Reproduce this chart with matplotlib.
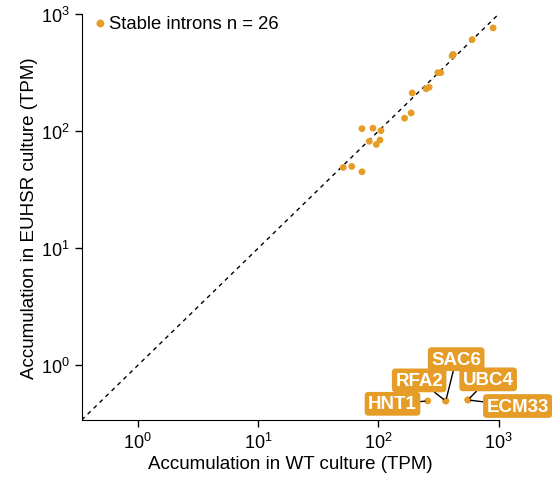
import matplotlib
matplotlib.use("Agg")
import matplotlib.pyplot as plt

plt.rcParams["font.family"] = ["Liberation Sans", "DejaVu Sans"]

ORANGE = "#E59D27"

# stable introns, TPM in WT vs EUHSR culture
wt_tpm = [898, 601, 418, 410, 312, 330, 264, 249, 191, 187, 165,
          73, 90, 105, 84, 103, 96, 51, 60, 73, 418,
          257, 363, 363, 554, 554]
euhsr_tpm = [761, 605, 451, 440, 316, 316, 237, 230, 212, 143, 129,
             105, 106, 101, 82, 84, 77, 49, 50, 45, 451,
             0.497, 0.497, 0.497, 0.507, 0.507]

# labelled outliers: gene, (x, y) of the point, (x, y) of the label
genes = ["HNT1", "RFA2", "SAC6", "UBC4", "ECM33"]
gene_x = [257, 363, 363, 554, 554]
gene_y = [0.497, 0.497, 0.497, 0.507, 0.507]
label_x = [131, 218, 443, 817, 1436]
label_y = [0.470, 0.745, 1.13, 0.760, 0.450]

fig = plt.figure(figsize=(5.52, 4.85), dpi=100)
ax = fig.add_axes([0.148, 0.132, 0.7555, 0.837])

lo = 0.342
ax.plot([lo, 1000], [lo, 1000], "k--", lw=1, dashes=(3, 3), zorder=1)
ax.scatter(wt_tpm, euhsr_tpm, s=24, color=ORANGE, edgecolors="none",
           zorder=3, label="Stable introns n = 26")

for g, px, py, lx, ly in zip(genes, gene_x, gene_y, label_x, label_y):
    ax.annotate(g, xy=(px, py), xytext=(lx, ly), ha="center", va="center",
                color="white", fontsize=13.5, fontweight="bold",
                bbox=dict(boxstyle="round,pad=0.18,rounding_size=0.2",
                          fc=ORANGE, ec="none"),
                arrowprops=dict(arrowstyle="-", color="black", lw=1,
                                shrinkA=0, shrinkB=2),
                annotation_clip=False, zorder=4)

ax.set_xscale("log")
ax.set_yscale("log")
ax.set_xlim(lo, 1000)
ax.set_ylim(lo, 1000)
ax.set_xticks([1, 10, 100, 1000])
ax.set_yticks([1, 10, 100, 1000])
ax.minorticks_off()
ax.tick_params(labelsize=13, length=5, width=1)
ax.spines["top"].set_visible(False)
ax.spines["right"].set_visible(False)
ax.set_xlabel("Accumulation in WT culture (TPM)", fontsize=13.5, labelpad=2)
ax.set_ylabel("Accumulation in EUHSR culture (TPM)", fontsize=13.5, labelpad=2)

ax.legend(loc="upper left", frameon=False, fontsize=13.3, handletextpad=-0.05,
          handlelength=1.0, markerscale=1.15, borderaxespad=0.0,
          bbox_to_anchor=(0.005, 1.015))

fig.savefig("out.png", dpi=100)
